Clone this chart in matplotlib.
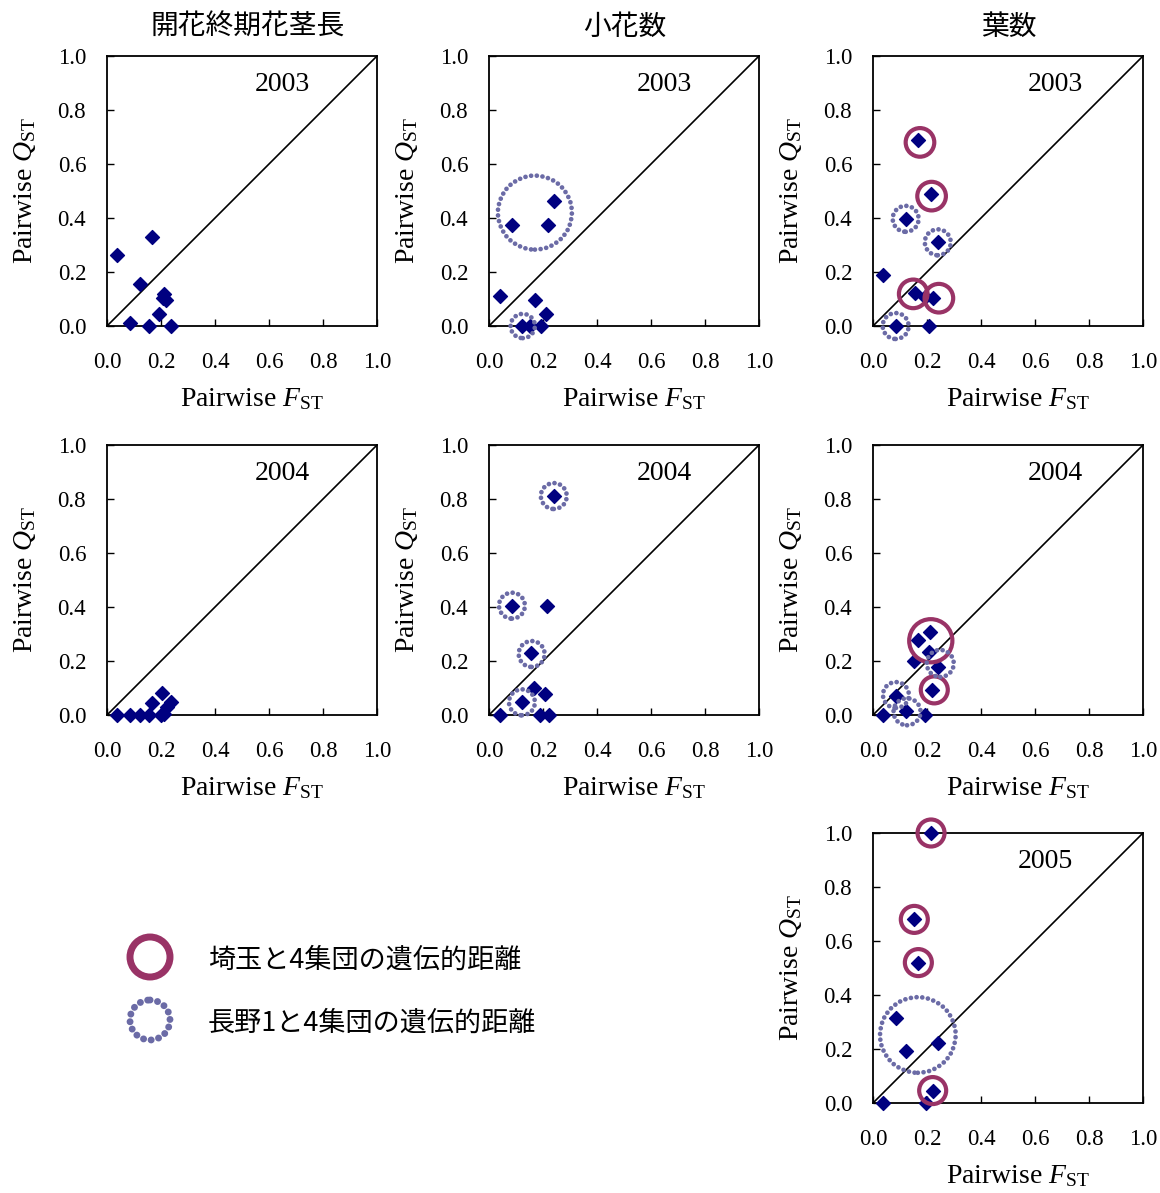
import matplotlib.pyplot as plt
from matplotlib.patches import Circle

plt.rcParams['font.family'] = ['Liberation Serif']
plt.rcParams['mathtext.fontset'] = 'custom'
plt.rcParams['mathtext.rm'] = 'Liberation Serif'
plt.rcParams['mathtext.it'] = 'Liberation Serif:italic'

jp = ['Noto Sans CJK JP', 'DejaVu Sans']

traits = ['開花終期花茎長', '小花数', '葉数']
ticks = [0.0, 0.2, 0.4, 0.6, 0.8, 1.0]
tick_labels = ['0.0', '0.2', '0.4', '0.6', '0.8', '1.0']
legend_labels = ['埼玉と4集団の遺伝的距離', '長野1と4集団の遺伝的距離']

# pairwise FST / QST values
stem03_fst = [0.038, 0.165, 0.121, 0.212, 0.206, 0.219, 0.191, 0.084, 0.154, 0.237]
stem03_qst = [0.263, 0.328, 0.156, 0.117, 0.102, 0.096, 0.044, 0.012, 0.0, 0.0]
stem04_fst = [0.038, 0.084, 0.121, 0.154, 0.200, 0.165, 0.204, 0.237, 0.222, 0.212]
stem04_qst = [0.0, 0.0, 0.0, 0.0, 0.0, 0.043, 0.083, 0.049, 0.030, 0.005]

flor03_fst = [0.240, 0.084, 0.219, 0.040, 0.169, 0.211, 0.122, 0.152, 0.194]
flor03_qst = [0.463, 0.373, 0.373, 0.111, 0.095, 0.044, 0.0, 0.0, 0.0]
flor04_fst = [0.240, 0.085, 0.214, 0.154, 0.168, 0.207, 0.122, 0.040, 0.190, 0.221]
flor04_qst = [0.811, 0.405, 0.405, 0.228, 0.099, 0.078, 0.047, 0.0, 0.0, 0.0]

leaf03_fst = [0.168, 0.214, 0.121, 0.240, 0.038, 0.156, 0.221, 0.193, 0.084, 0.208]
leaf03_qst = [0.689, 0.489, 0.397, 0.310, 0.188, 0.123, 0.104, 0.109, 0.0, 0.0]
leaf04_fst = [0.212, 0.166, 0.207, 0.153, 0.240, 0.220, 0.085, 0.122, 0.038, 0.194]
leaf04_qst = [0.309, 0.277, 0.235, 0.199, 0.178, 0.093, 0.070, 0.015, 0.0, 0.0]
leaf05_fst = [0.215, 0.153, 0.168, 0.084, 0.240, 0.122, 0.221, 0.038, 0.195]
leaf05_qst = [1.0, 0.680, 0.520, 0.314, 0.223, 0.194, 0.046, 0.0, 0.0]

# highlighted pairs: (fst, qst, radius)
leaf03_saitama = [(0.174, 0.680, 0.053), (0.217, 0.481, 0.053),
                  (0.149, 0.119, 0.053), (0.244, 0.103, 0.053)]
leaf03_nagano = [(0.121, 0.397, 0.048), (0.240, 0.310, 0.048), (0.084, 0.0, 0.048)]
flor03_nagano = [(0.170, 0.420, 0.137), (0.125, 0.0, 0.045)]
flor04_nagano = [(0.240, 0.811, 0.048), (0.085, 0.405, 0.048),
                 (0.158, 0.226, 0.048), (0.122, 0.047, 0.048)]
leaf04_saitama = [(0.214, 0.275, 0.080), (0.227, 0.093, 0.050)]
leaf04_nagano = [(0.249, 0.191, 0.050), (0.085, 0.074, 0.048), (0.126, 0.012, 0.050)]
leaf05_saitama = [(0.215, 1.0, 0.050), (0.153, 0.680, 0.050),
                  (0.168, 0.520, 0.050), (0.221, 0.046, 0.050)]
leaf05_nagano = [(0.166, 0.252, 0.140)]

navy = '#000080'
plum = '#993366'
slate = '#6B6BA6'

W, H = 1160, 1193
fig = plt.figure(figsize=(W / 100, H / 100), dpi=100)

# overlay in pixel units for titles and the legend
over = fig.add_axes([0, 0, 1, 1])
over.set_xlim(0, W)
over.set_ylim(H, 0)
over.axis('off')


def ring(ax, x, y, r, solid, lw=3, gap=1.3):
    if solid:
        c = Circle((x, y), r, fill=False, ec=plum, lw=lw, clip_on=False, zorder=4)
    else:
        c = Circle((x, y), r, fill=False, ec=slate, lw=lw, ls=(0, (0.01, gap)),
                   capstyle='round', clip_on=False, zorder=4)
    ax.add_patch(c)


def panel(left, top, fst, qst, year, year_x, saitama=(), nagano=()):
    ax = fig.add_axes([left / W, (H - top - 270) / H, 270 / W, 270 / H])
    ax.plot([0, 1], [0, 1], color='black', lw=1.2, zorder=2)
    ax.scatter(fst, qst, marker='D', s=50, color=navy, zorder=3, clip_on=False)
    for x, y, r in saitama:
        ring(ax, x, y, r, True)
    for x, y, r in nagano:
        ring(ax, x, y, r, False, lw=3.4, gap=1.2)
    ax.set_xlim(0, 1)
    ax.set_ylim(0, 1)
    ax.set_xticks(ticks)
    ax.set_yticks(ticks)
    ax.set_xticklabels(tick_labels)
    ax.set_yticklabels(tick_labels)
    ax.tick_params(direction='in', length=5, width=1, labelsize=16.5)
    ax.tick_params(axis='x', pad=19)
    ax.tick_params(axis='y', pad=15)
    for s in ax.spines.values():
        s.set_linewidth(1.3)
    ax.text(year_x, 0.896, year, transform=ax.transAxes, ha='center', va='center',
            fontsize=20)
    ax.set_xlabel(r'Pairwise $\mathit{F}_{\mathrm{ST}}$', fontsize=20, labelpad=9,
                  x=0.537)
    ax.set_ylabel(r'Pairwise $\mathit{Q}_{\mathrm{ST}}$', fontsize=20, labelpad=14)
    return ax


panel(107, 56, stem03_fst, stem03_qst, '2003', 0.648)
panel(489, 56, flor03_fst, flor03_qst, '2003', 0.648, nagano=flor03_nagano)
panel(873, 56, leaf03_fst, leaf03_qst, '2003', 0.674,
      saitama=leaf03_saitama, nagano=leaf03_nagano)
panel(107, 445, stem04_fst, stem04_qst, '2004', 0.648)
panel(489, 445, flor04_fst, flor04_qst, '2004', 0.648, nagano=flor04_nagano)
panel(873, 445, leaf04_fst, leaf04_qst, '2004', 0.674,
      saitama=leaf04_saitama, nagano=leaf04_nagano)
panel(873, 833, leaf05_fst, leaf05_qst, '2005', 0.640,
      saitama=leaf05_saitama, nagano=leaf05_nagano)

for cx, name in zip([248, 625, 1009], traits):
    over.text(cx, 27, name, ha='center', va='center', fontsize=20, family=jp)

# legend
ring(over, 150, 957, 20, True, lw=5)
ring(over, 150, 1020, 20, False, lw=5, gap=1.1)
over.text(208, 960, legend_labels[0], va='center', fontsize=19.5, family=jp)
over.text(208, 1023, legend_labels[1], va='center', fontsize=19.5, family=jp)

fig.savefig('out.png', dpi=100)
